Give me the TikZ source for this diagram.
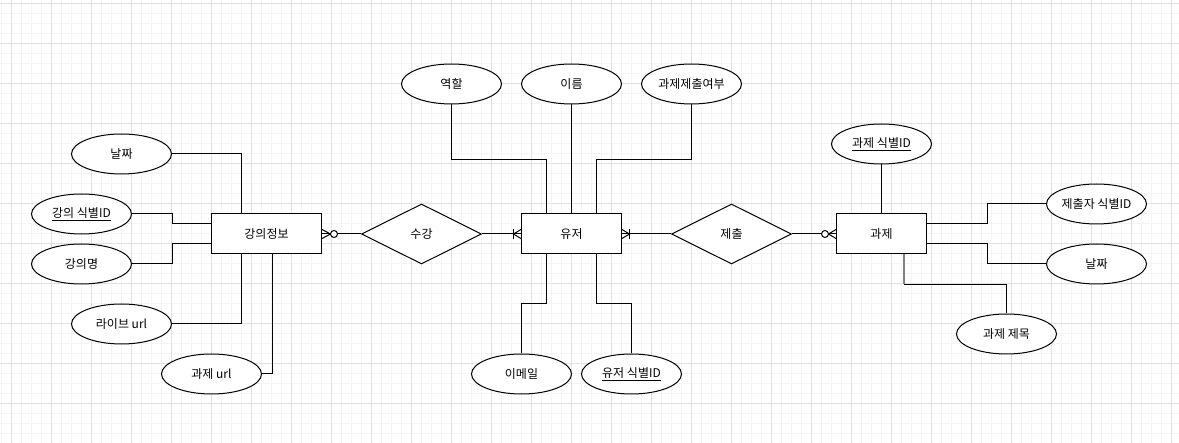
\documentclass[tikz,border=0pt]{standalone}
\usepackage{fontspec}
\setmainfont{Noto Sans CJK KR}
\usetikzlibrary{shapes.geometric}
\definecolor{gridminor}{RGB}{244,244,244}
\definecolor{gridmajor}{RGB}{224,224,224}
\tikzset{
  entity/.style={draw, fill=white, rectangle, minimum height=40pt, inner sep=0pt, line width=1pt},
  attr/.style={draw, fill=white, ellipse, minimum width=100pt, minimum height=40pt, inner sep=0pt, line width=1pt},
  rel/.style={draw, fill=white, diamond, aspect=2, minimum width=120pt, minimum height=60pt, inner sep=0pt, line width=1pt},
  link/.style={draw, line width=1pt},
  every node/.style={font=\fontsize{12}{14}\selectfont},
}
\begin{document}
\begin{tikzpicture}[x=1pt, y=-1pt]
  \useasboundingbox (0,0) rectangle (1179,443);
  \fill[white] (0,0) rectangle (1179,443);
  % background grid
  \foreach \x in {1.5,11.5,...,1171.5} \draw[gridminor, line width=1pt] (\x,0) -- (\x,443);
  \foreach \y in {4,14,...,434} \draw[gridminor, line width=1pt] (0,\y) -- (1179,\y);
  \foreach \x in {11.5,51.5,...,1171.5} \draw[gridmajor, line width=1pt] (\x,0) -- (\x,443);
  \foreach \y in {4,44,...,404} \draw[gridmajor, line width=1pt] (0,\y) -- (1179,\y);

  % entities and relationships
  \node[entity, minimum width=110pt] (kj) at (266.5,234) {강의정보};
  \node[rel] (sg) at (421.5,234) {수강};
  \node[entity, minimum width=100pt] (yj) at (571.5,234) {유저};
  \node[rel] (jc) at (731.5,234) {제출};
  \node[entity, minimum width=90pt] (gj) at (881.5,234) {과제};

  % attributes of 강의정보
  \node[attr] (kdate) at (121.5,154) {날짜};
  \node[attr] (kid) at (81.5,214) {\underline{강의 식별ID}};
  \node[attr] (kname) at (81.5,264) {강의명};
  \node[attr] (klive) at (121.5,324) {라이브 url};
  \node[attr] (kurl) at (211.5,374) {과제 url};

  % attributes of 유저
  \node[attr] (urole) at (451.5,84) {역할};
  \node[attr] (uname) at (571.5,84) {이름};
  \node[attr] (usub) at (691.5,84) {과제제출여부};
  \node[attr] (umail) at (521.5,374) {이메일};
  \node[attr] (uid) at (631.5,374) {\underline{유저 식별ID}};

  % attributes of 과제
  \node[attr] (tid) at (881.5,144) {\underline{과제 식별ID}};
  \node[attr] (tsid) at (1096.5,204) {제출자 식별ID};
  \node[attr] (tdate) at (1096.5,264) {날짜};
  \node[attr] (ttitle) at (1006.5,334) {과제 제목};

  % attribute links
  \draw[link] (kdate.east) -| ([xshift=-25pt]kj.north);
  \draw[link] (kid.east) -- ++(40,0) |- ([yshift=10pt]kj.west);
  \draw[link] (kname.east) -- ++(40,0) |- ([yshift=-10pt]kj.west);
  \draw[link] (klive.east) -| ([xshift=-25pt]kj.south);
  \draw[link] (kurl.east) -| ([xshift=5.5pt]kj.south);

  \draw[link] (urole.south) -- ++(0,55) -| ([xshift=-25pt]yj.north);
  \draw[link] (uname.south) -- (yj.north);
  \draw[link] (usub.south) -- ++(0,55) -| ([xshift=25pt]yj.north);
  \draw[link] (umail.north) -- ++(0,-50) -| ([xshift=-25pt]yj.south);
  \draw[link] (uid.north) -- ++(0,-50) -| ([xshift=25pt]yj.south);

  \draw[link] (tid.south) -- (gj.north);
  \draw[link] ([yshift=10pt]gj.east) -- ++(60,0) |- (tsid.west);
  \draw[link] ([yshift=-10pt]gj.east) -- ++(60,0) |- (tdate.west);
  \draw[link] ([xshift=22.5pt]gj.south) -- ++(0,30) -| (ttitle.north);
  \draw[gray, line width=1.6pt] ([xshift=22.5pt]gj.south) -- ++(0,30);

  % relationship links
  \draw[link] (kj.east) -- (sg.west);
  \draw[link] (sg.east) -- (yj.west);
  \draw[link] (yj.east) -- (jc.west);
  \draw[link] (jc.east) -- (gj.west);

  % cardinality markers
  % zero-to-many at 강의정보
  \draw[link] ([shift={(0,-4.5)}]kj.east) -- ([shift={(8.5,0)}]kj.east) -- ([shift={(0,4.5)}]kj.east);
  \draw[link, fill=white] ([shift={(12,0)}]kj.east) circle[radius=3.5pt];
  % one-to-many at 유저 (left)
  \draw[link] ([shift={(0,-4.5)}]yj.west) -- ([shift={(-7.5,0)}]yj.west) -- ([shift={(0,4.5)}]yj.west);
  \draw[link] ([shift={(-7.5,-5)}]yj.west) -- ([shift={(-7.5,5)}]yj.west);
  % one-to-many at 유저 (right)
  \draw[link] ([shift={(0,-4.5)}]yj.east) -- ([shift={(7.5,0)}]yj.east) -- ([shift={(0,4.5)}]yj.east);
  \draw[link] ([shift={(7.5,-5)}]yj.east) -- ([shift={(7.5,5)}]yj.east);
  % zero-to-many at 과제
  \draw[link] ([shift={(0,-4.5)}]gj.west) -- ([shift={(-7.5,0)}]gj.west) -- ([shift={(0,4.5)}]gj.west);
  \draw[link, fill=white] ([shift={(-11,0)}]gj.west) circle[radius=3.5pt];
\end{tikzpicture}
\end{document}
